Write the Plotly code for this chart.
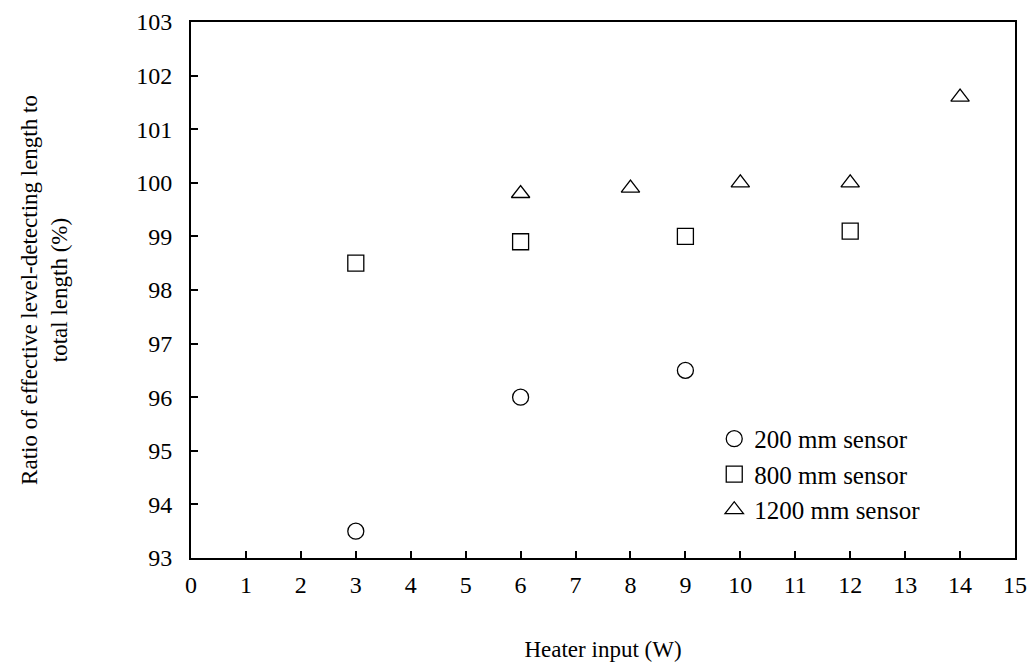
import plotly.graph_objects as go

x200 = [3, 6, 9]
y200 = [93.5, 96.0, 96.5]
x800 = [3, 6, 9, 12]
y800 = [98.5, 98.9, 99.0, 99.1]
x1200 = [6, 8, 10, 12, 14]
y1200 = [99.8, 99.9, 100.0, 100.0, 101.6]
names = ["200 mm sensor", "800 mm sensor", "1200 mm sensor"]
symbols = ["circle-open", "square-open", "triangle-up-open"]

FONT = "Liberation Serif"

fig = go.Figure()
for xs, ys, nm, sym in [(x200, y200, names[0], symbols[0]),
                        (x800, y800, names[1], symbols[1]),
                        (x1200, y1200, names[2], symbols[2])]:
    fig.add_trace(go.Scatter(
        x=xs, y=ys, mode="markers", name=nm,
        marker=dict(symbol=sym, size=16, color="black", line=dict(color="black", width=1.3)),
    ))

fig.update_layout(
    width=1035, height=665,
    margin=dict(l=191, r=20, t=22, b=107),
    paper_bgcolor="white", plot_bgcolor="white",
    font=dict(family=FONT, size=24, color="black"),
    showlegend=True,
    legend=dict(x=0.635, y=0.265, xanchor="left", yanchor="top",
                bgcolor="rgba(0,0,0,0)", font=dict(family=FONT, size=25), itemwidth=30,
                tracegroupgap=0),
    xaxis=dict(range=[0, 15], dtick=1, tick0=0, showgrid=False, zeroline=False,
               showline=True, linecolor="black", linewidth=2, mirror=True,
               ticks="inside", ticklen=7, tickwidth=2, tickcolor="black",
               ticklabelstandoff=4, tickfont=dict(family=FONT, size=24),
               automargin=False,
               title=dict(text="Heater input (W)", standoff=44, font=dict(family=FONT, size=23))),
    yaxis=dict(range=[93, 103], dtick=1, tick0=93, showgrid=False, zeroline=False,
               showline=True, linecolor="black", linewidth=2, mirror=True,
               ticks="inside", ticklen=7, tickwidth=2, tickcolor="black",
               ticklabelstandoff=12, tickfont=dict(family=FONT, size=24),
               automargin=False,
               title=dict(text="Ratio of effective level-detecting length to<br>total length (%)",
                          standoff=62, font=dict(family=FONT, size=23))),
)

fig.write_html("out.html")
